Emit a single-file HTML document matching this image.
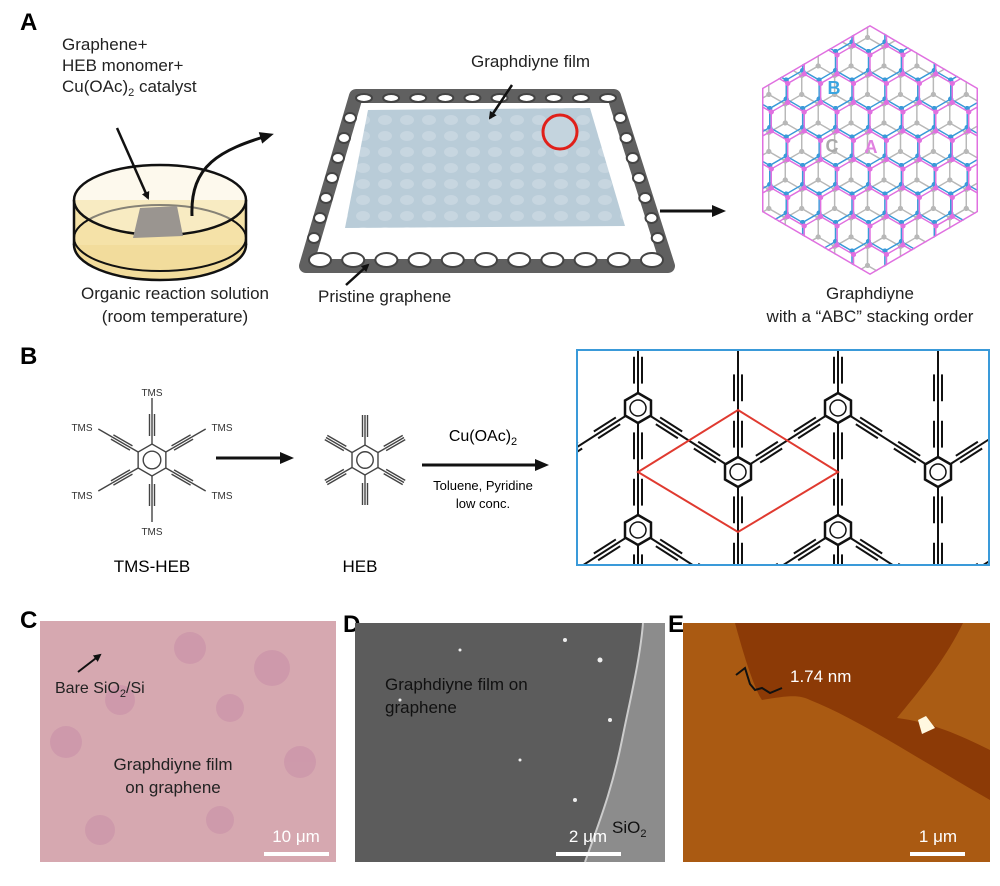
<!DOCTYPE html>
<html><head><meta charset="utf-8">
<style>
html,body{margin:0;padding:0;background:#fff;}
body{width:1000px;height:886px;overflow:hidden;position:relative;font-family:"Liberation Sans",sans-serif;}
svg{position:absolute;left:0;top:0;}
</style></head>
<body>
<svg id="s" width="1000" height="886" viewBox="0 0 1000 886" font-family="Liberation Sans, sans-serif">
<defs>
<marker id="ar" markerWidth="8" markerHeight="8" refX="6" refY="4" orient="auto" markerUnits="userSpaceOnUse"><path d="M0,0 L8,4 L0,8 z" fill="#111"/></marker>
<marker id="ar2" markerWidth="14" markerHeight="12" refX="10" refY="6" orient="auto" markerUnits="userSpaceOnUse"><path d="M0,0 L14,6 L0,12 z" fill="#111"/></marker>
<clipPath id="hexclip"><polygon points="870,25 978,88 978,212 870,275 762,212 762,88"/></clipPath>
<clipPath id="bclip"><rect x="578" y="351" width="410" height="213"/></clipPath>
<pattern id="fpat" width="22" height="16" patternUnits="userSpaceOnUse"><rect width="22" height="16" fill="#b9ccd8"/><ellipse cx="11" cy="8" rx="7" ry="5" fill="#c7d6e0"/></pattern>
</defs>

<text x="20" y="30" font-size="24" font-weight="bold">A</text>
<text x="20" y="364" font-size="24" font-weight="bold">B</text>
<text x="20" y="628" font-size="24" font-weight="bold">C</text>
<text x="343" y="632" font-size="24" font-weight="bold">D</text>
<text x="668" y="632" font-size="24" font-weight="bold">E</text>

<g font-size="17" fill="#222">
<text x="62" y="50">Graphene+</text>
<text x="62" y="71">HEB monomer+</text>
<text x="62" y="92">Cu(OAc)<tspan font-size="11" dy="4">2</tspan><tspan dy="-4"> catalyst</tspan></text>
<text x="175" y="299" text-anchor="middle">Organic reaction solution</text>
<text x="175" y="322" text-anchor="middle">(room temperature)</text>
<text x="471" y="67">Graphdiyne film</text>
<text x="318" y="302">Pristine graphene</text>
<text x="870" y="299" text-anchor="middle">Graphdiyne</text>
<text x="870" y="322" text-anchor="middle">with a “ABC” stacking order</text>
</g>

<ellipse cx="160" cy="245" rx="86" ry="35" fill="#f2dc9c" stroke="#111" stroke-width="2.5"/>
<rect x="74" y="200" width="172" height="45" fill="#f5e2a8"/>
<line x1="74" y1="200" x2="74" y2="245" stroke="#111" stroke-width="2.5"/>
<line x1="246" y1="200" x2="246" y2="245" stroke="#111" stroke-width="2.5"/>
<ellipse cx="160" cy="238" rx="86" ry="33" fill="none" stroke="#111" stroke-width="2"/>
<ellipse cx="160" cy="200" rx="86" ry="35" fill="#fbf3dc" fill-opacity="0.5" stroke="#111" stroke-width="2.5"/>
<polygon points="140,208 177,206 183,236 133,238" fill="#9a9590"/>
<line x1="117" y1="128" x2="148" y2="198" stroke="#111" stroke-width="2.5" marker-end="url(#ar)"/>
<path d="M192,216 C190,165 220,150 270,135" fill="none" stroke="#111" stroke-width="3" marker-end="url(#ar2)"/>

<g id="frame"></g>
<polygon points="368,110 590,108 625,226 345,228" fill="url(#fpat)"/>
<circle cx="560" cy="132" r="17" fill="#c4d4de" stroke="#e0201a" stroke-width="3"/>
<line x1="512" y1="85" x2="490" y2="118" stroke="#111" stroke-width="2.5" marker-end="url(#ar)"/>
<line x1="346" y1="285" x2="368" y2="265" stroke="#111" stroke-width="2.5" marker-end="url(#ar)"/>
<line x1="660" y1="211" x2="722" y2="211" stroke="#111" stroke-width="3" marker-end="url(#ar2)"/>

<g clip-path="url(#hexclip)" id="gdy"></g>
<text x="832" y="152" font-size="18" fill="#aaa" text-anchor="middle" font-weight="bold">C</text>
<text x="871" y="153" font-size="18" fill="#e080e0" text-anchor="middle" font-weight="bold">A</text>
<text x="834" y="94" font-size="18" fill="#3aa5e0" text-anchor="middle" font-weight="bold">B</text>

<g id="mol" stroke="#444" fill="none" stroke-width="1.4"></g>
<g font-size="10" fill="#333" text-anchor="middle">
<text x="152" y="396">TMS</text>
<text x="152" y="535">TMS</text>
<text x="82" y="431">TMS</text><text x="222" y="431">TMS</text>
<text x="82" y="499">TMS</text><text x="222" y="499">TMS</text>
</g>
<text x="152" y="572" font-size="17" text-anchor="middle">TMS-HEB</text>
<text x="360" y="572" font-size="17" text-anchor="middle">HEB</text>
<line x1="216" y1="458" x2="290" y2="458" stroke="#111" stroke-width="3" marker-end="url(#ar2)"/>
<line x1="422" y1="465" x2="545" y2="465" stroke="#111" stroke-width="3" marker-end="url(#ar2)"/>
<text x="483" y="441" font-size="16" text-anchor="middle">Cu(OAc)<tspan font-size="11" dy="4">2</tspan></text>
<text x="483" y="490" font-size="13" text-anchor="middle">Toluene, Pyridine</text>
<text x="483" y="508" font-size="13" text-anchor="middle">low conc.</text>

<rect x="577" y="350" width="412" height="215" fill="#fff" stroke="#3a9ad9" stroke-width="2"/>
<g clip-path="url(#bclip)" id="net"></g>
<polygon points="738,410 838,472 738,532 638,472" fill="none" stroke="#e03a30" stroke-width="2"/>

<rect x="40" y="621" width="296" height="241" fill="#d6a8b0"/>
<g fill="#c98ea8" opacity="0.55">
<circle cx="190" cy="648" r="16"/><circle cx="272" cy="668" r="18"/><circle cx="230" cy="708" r="14"/><circle cx="120" cy="700" r="15"/><circle cx="66" cy="742" r="16"/><circle cx="300" cy="762" r="16"/><circle cx="220" cy="820" r="14"/><circle cx="100" cy="830" r="15"/>
</g>
<line x1="78" y1="672" x2="100" y2="655" stroke="#111" stroke-width="2" marker-end="url(#ar)"/>
<text x="55" y="693" font-size="16" fill="#222">Bare SiO<tspan font-size="11" dy="4">2</tspan><tspan dy="-4">/Si</tspan></text>
<text x="173" y="770" font-size="17" fill="#222" text-anchor="middle">Graphdiyne film</text>
<text x="173" y="793" font-size="17" fill="#222" text-anchor="middle">on graphene</text>
<text x="296" y="842" font-size="17" fill="#fff" text-anchor="middle">10 μm</text>
<rect x="264" y="852" width="65" height="4" fill="#fff"/>

<rect x="355" y="623" width="310" height="239" fill="#5c5c5c"/>
<path d="M643,623 L665,623 L665,862 L585,862 C600,820 612,790 622,740 C630,700 640,660 643,623 z" fill="#8c8c8c"/>
<path d="M643,623 C640,660 630,700 622,740 C612,790 600,820 585,862" fill="none" stroke="#ccc" stroke-width="2"/>
<g fill="#eee"><circle cx="565" cy="640" r="2"/><circle cx="600" cy="660" r="2.5"/><circle cx="460" cy="650" r="1.5"/><circle cx="520" cy="760" r="1.5"/><circle cx="400" cy="700" r="1.5"/><circle cx="575" cy="800" r="2"/><circle cx="610" cy="720" r="2"/></g>
<text x="385" y="690" font-size="17" fill="#111">Graphdiyne film  on</text>
<text x="385" y="713" font-size="17" fill="#111">graphene</text>
<text x="612" y="833" font-size="17" fill="#111">SiO<tspan font-size="11" dy="4">2</tspan></text>
<text x="588" y="842" font-size="17" fill="#fff" text-anchor="middle">2 μm</text>
<rect x="556" y="852" width="65" height="4" fill="#fff"/>

<rect x="683" y="623" width="307" height="239" fill="#8c3a06"/>
<path d="M683,623 L735,623 C745,660 755,690 762,700 C790,695 800,695 810,700 C860,720 920,760 990,800 L990,862 L683,862 z" fill="#aa5a12"/>
<path d="M963,623 L990,623 L990,750 C960,735 930,722 897,718 C920,690 945,660 963,623 z" fill="#aa5c14"/>
<polygon points="918,720 926,716 935,728 922,734" fill="#fff8e0"/>
<polyline points="736,675 745,668 750,684 755,690 762,688 770,693 782,688" fill="none" stroke="#111" stroke-width="2"/>
<text x="790" y="682" font-size="17" fill="#fff">1.74 nm</text>
<text x="938" y="842" font-size="17" fill="#fff" text-anchor="middle">1 μm</text>
<rect x="910" y="852" width="55" height="4" fill="#fff"/>
</svg>
<script>
var NS="http://www.w3.org/2000/svg";
function el(p,t,a){var e=document.createElementNS(NS,t);for(var k in a)e.setAttribute(k,a[k]);p.appendChild(e);return e;}
var g=document.getElementById('gdy');
function lattice(ox,oy,col,a){
 var h=a*Math.sqrt(3);
 for(var i=-6;i<7;i++)for(var j=-6;j<7;j++){
  var cx=ox+i*h+(Math.abs(j)%2?h/2:0), cy=oy+j*1.5*a;
  var pts=[];for(var k=0;k<6;k++){var an=Math.PI/6+k*Math.PI/3;pts.push((cx+a*Math.cos(an)).toFixed(1)+","+(cy+a*Math.sin(an)).toFixed(1));}
  el(g,'polygon',{points:pts.join(' '),fill:'none',stroke:col,'stroke-width':1.3});
  for(var k=0;k<6;k++){var an=Math.PI/6+k*Math.PI/3;el(g,'circle',{cx:cx+a*Math.cos(an),cy:cy+a*Math.sin(an),r:2.5,fill:col});}
 }}
lattice(884,142,'#b8b8b8',19);
lattice(852,118,'#3a9ad9',19);
lattice(870,150,'#e070e0',19);
el(g,'polygon',{points:"870,25 978,88 978,212 870,275 762,212 762,88",fill:'none',stroke:'#e070e0','stroke-width':3});
var n=document.getElementById('net');
var P=[];
for(var c=-1;c<5;c++){var x=638+100*c;var y0=(c%2===0)?408:472; if(c<0) y0=472;
 for(var m=-2;m<3;m++)P.push([x,y0+122*m]);}
function diy(x1,y1,x2,y2){
 el(n,'line',{x1:x1,y1:y1,x2:x2,y2:y2,stroke:'#111','stroke-width':2});
 var dx=x2-x1,dy=y2-y1,L=Math.sqrt(dx*dx+dy*dy),nx=-dy/L*4,ny=dx/L*4;
 [[0.2,0.42],[0.58,0.8]].forEach(function(s){
  [1,-1].forEach(function(sg){el(n,'line',{x1:x1+dx*s[0]+sg*nx,y1:y1+dy*s[0]+sg*ny,x2:x1+dx*s[1]+sg*nx,y2:y1+dy*s[1]+sg*ny,stroke:'#111','stroke-width':2});});});
}
for(var i=0;i<P.length;i++)for(var j=i+1;j<P.length;j++){
 var dx=P[j][0]-P[i][0],dy=P[j][1]-P[i][1];
 if((dx===0&&Math.abs(dy)===122)||(Math.abs(dx)===100&&Math.abs(Math.abs(dy)-64)<5)) diy(P[i][0],P[i][1],P[j][0],P[j][1]);
}
P.forEach(function(p){
 if(p[1]<380) return;
 var pts=[];for(var k=0;k<6;k++){var an=Math.PI/2+k*Math.PI/3;pts.push((p[0]+15*Math.cos(an))+","+(p[1]+15*Math.sin(an)));}
 el(n,'polygon',{points:pts.join(' '),fill:'#fff',stroke:'#111','stroke-width':2.5});
 el(n,'circle',{cx:p[0],cy:p[1],r:8,fill:'none',stroke:'#111','stroke-width':1.5});
});
var mo=document.getElementById('mol');
function mol(cx,cy,r,b,len,tail){
 var pts=[];for(var k=0;k<6;k++){var an=Math.PI/2+k*Math.PI/3;pts.push((cx+r*Math.cos(an))+","+(cy+r*Math.sin(an)));}
 el(mo,'polygon',{points:pts.join(' ')});
 el(mo,'circle',{cx:cx,cy:cy,r:r*0.55});
 for(var k=0;k<6;k++){var an=Math.PI/2+k*Math.PI/3,c=Math.cos(an),s=Math.sin(an);
  el(mo,'line',{x1:cx+r*c,y1:cy+r*s,x2:cx+(r+b)*c,y2:cy+(r+b)*s});
  for(var o=-2.5;o<=2.5;o+=2.5)el(mo,'line',{x1:cx+(r+b)*c-s*o,y1:cy+(r+b)*s+c*o,x2:cx+(r+b+len)*c-s*o,y2:cy+(r+b+len)*s+c*o});
  if(tail)el(mo,'line',{x1:cx+(r+b+len)*c,y1:cy+(r+b+len)*s,x2:cx+(r+b+len+tail)*c,y2:cy+(r+b+len+tail)*s});}
}
mol(152,460,16,8,22,16);mol(365,460,15,8,22,0);
var f=document.getElementById('frame');
el(f,'polygon',{points:"356,96 614,96 668,266 306,266",fill:'none',stroke:'#606060','stroke-width':14,'stroke-linejoin':'round'});
for(var i=0;i<11;i++){var t=i/10;
 el(f,'ellipse',{cx:320+t*332,cy:260,rx:11,ry:7,fill:'#fff',stroke:'#444','stroke-width':2});}
for(var i=0;i<10;i++){var t=i/9;
 el(f,'ellipse',{cx:364+t*244,cy:98,rx:8,ry:4,fill:'#fff',stroke:'#444','stroke-width':2});}
for(var i=1;i<8;i++){var t=i/8;
 el(f,'ellipse',{cx:356-t*48,cy:98+t*160,rx:6,ry:5,fill:'#fff',stroke:'#444','stroke-width':2});
 el(f,'ellipse',{cx:614+t*50,cy:98+t*160,rx:6,ry:5,fill:'#fff',stroke:'#444','stroke-width':2});}
</script>
</body></html>
